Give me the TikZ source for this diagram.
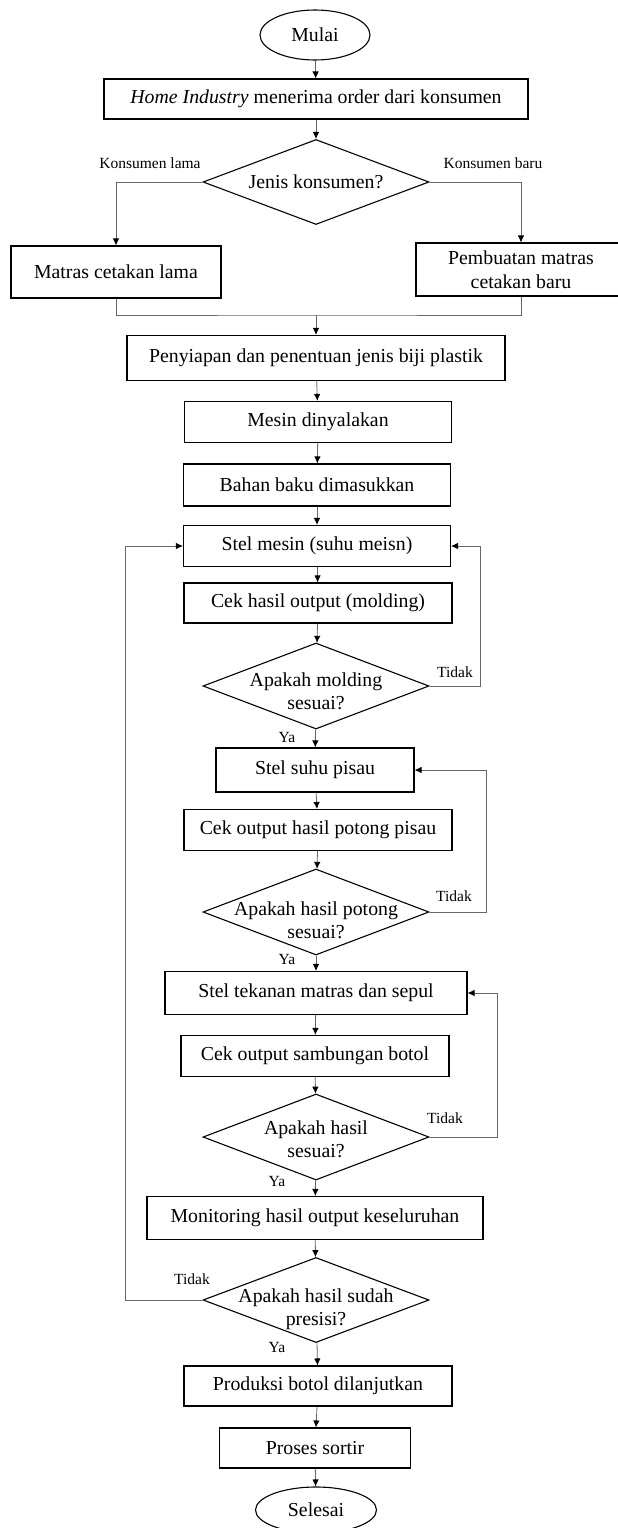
\documentclass[tikz,border=0pt]{standalone}
\usepackage{fontspec}
\setmainfont{Liberation Serif}
\usetikzlibrary{shapes.geometric,arrows.meta}

\tikzset{
  kotak/.style={draw, line width=1.1pt, rectangle, align=center, inner sep=0pt,
    font=\fontsize{19.8}{24}\selectfont},
  belah/.style={draw, line width=1.1pt, diamond, inner sep=0pt, aspect=2.63,
    minimum width=226, minimum height=86},
  isi/.style={align=center, inner sep=0pt, font=\fontsize{19.8}{23}\selectfont},
  bulat/.style={draw, line width=1.1pt, ellipse, inner sep=0pt,
    font=\fontsize{19.8}{24}\selectfont},
  garis/.style={draw=black!60, line width=0.8pt},
  ket/.style={font=\fontsize{15.5}{18}\selectfont, inner sep=0pt}
}

\begin{document}
\begin{tikzpicture}[x=1pt, y=-1pt, >={Latex[length=7pt,width=6.5pt,color=black]}]
  \useasboundingbox (0,0) rectangle (618,1528);

  \node[bulat, minimum width=110, minimum height=50] (mulai) at (315,35) {Mulai};
  \node[kotak, minimum width=424, minimum height=40] (order) at (316,99)
    {\textit{Home Industry} menerima order dari konsumen};
  \node[belah, minimum height=85, label={[isi]center:Jenis konsumen?}] (jenis) at (316,182) {};
  \node[kotak, minimum width=210, minimum height=52] (lama) at (116,272) {Matras cetakan lama};
  \node[kotak, minimum width=210, minimum height=53] (baru) at (521,269.5)
    {Pembuatan matras\\cetakan baru};
  \coordinate (gabung) at (316,315);

  \node[kotak, minimum width=378, minimum height=45] (siap) at (316,358)
    {Penyiapan dan penentuan jenis biji plastik};
  \node[kotak, minimum width=267, minimum height=41] (nyala) at (318,422) {Mesin dinyalakan};
  \node[kotak, minimum width=267, minimum height=42] (bahan) at (317,485) {Bahan baku dimasukkan};
  \node[kotak, minimum width=267, minimum height=41] (stel) at (317,546) {Stel mesin (suhu meisn)};
  \node[kotak, minimum width=268, minimum height=40] (cek1) at (318,603) {Cek hasil output (molding)};
  \node[belah, label={[isi, yshift=-5pt]center:Apakah molding\\sesuai?}] (dec1) at (316,686) {};

  \node[kotak, minimum width=198, minimum height=44] (pisau) at (315,770) {Stel suhu pisau};
  \node[kotak, minimum width=268, minimum height=41] (cek2) at (318,830) {Cek output hasil potong pisau};
  \node[belah, label={[isi, yshift=-8pt]center:Apakah hasil potong\\sesuai?}] (dec2) at (316,912) {};

  \node[kotak, minimum width=302, minimum height=43] (tekan) at (316,993) {Stel tekanan matras dan sepul};
  \node[kotak, minimum width=268, minimum height=41] (cek3) at (315,1056) {Cek output sambungan botol};
  \node[belah, label={[isi, yshift=-2pt]center:Apakah hasil\\sesuai?}] (dec3) at (316,1137) {};

  \node[kotak, minimum width=336, minimum height=43] (monitor) at (315,1218)
    {Monitoring hasil output keseluruhan};
  \node[belah, minimum height=85, label={[isi, yshift=-9pt]center:Apakah hasil sudah\\presisi?}] (dec4) at (316,1300) {};
  \node[kotak, minimum width=268, minimum height=40] (produksi) at (318,1386)
    {Produksi botol dilanjutkan};
  \node[kotak, minimum width=191, minimum height=40] (sortir) at (315,1448) {Proses sortir};
  \node[bulat, minimum width=121, minimum height=46] (selesai) at (316,1510) {Selesai};

  % alur utama
  \draw[garis, ->] (mulai) -- (order);
  \draw[garis, ->] (order) -- (jenis);
  \draw[garis, ->] (jenis.west) -| (lama.north);
  \draw[garis, ->] (jenis.east) -| (baru.north);
  \draw[garis] (lama.south) |- (gabung) -| (baru.south);
  \draw[garis, ->] (gabung) -- (siap);
  \draw[garis, ->] (siap) -- (nyala);
  \draw[garis, ->] (nyala) -- (bahan);
  \draw[garis, ->] (bahan) -- (stel);
  \draw[garis, ->] (stel) -- (cek1);
  \draw[garis, ->] (cek1) -- (dec1);
  \draw[garis, ->] (dec1) -- (pisau);
  \draw[garis, ->] (pisau) -- (cek2);
  \draw[garis, ->] (cek2) -- (dec2);
  \draw[garis, ->] (dec2) -- (tekan);
  \draw[garis, ->] (tekan) -- (cek3);
  \draw[garis, ->] (cek3) -- (dec3);
  \draw[garis, ->] (dec3) -- (monitor);
  \draw[garis, ->] (monitor) -- (dec4);
  \draw[garis, ->] (dec4) -- (produksi);
  \draw[garis, ->] (produksi) -- (sortir);
  \draw[garis, ->] (sortir) -- (selesai);

  % balik (tidak)
  \draw[garis, ->] (dec1.east) -- (480,686) |- (stel.east);
  \draw[garis, ->] (dec2.east) -- (486,912) |- (pisau.east);
  \draw[garis, ->] (dec3.east) -- (497,1137) |- (tekan.east);
  \draw[garis, ->] (dec4.west) -- (125,1300) |- (stel.west);

  % keterangan
  \node[ket] (klama) at (150,163) {Konsumen lama};
  \node[ket] (kbaru) at (493,163) {Konsumen baru};
  \node[ket] (t1) at (455,672) {Tidak};
  \node[ket] (t2) at (454,896) {Tidak};
  \node[ket] (t3) at (445,1118) {Tidak};
  \node[ket] (t4) at (192,1279) {Tidak};
  \node[ket] (y1) at (287,737) {Ya};
  \node[ket] (y2) at (287,959) {Ya};
  \node[ket] (y3) at (277,1181) {Ya};
  \node[ket] (y4) at (277,1347) {Ya};
\end{tikzpicture}
\end{document}
